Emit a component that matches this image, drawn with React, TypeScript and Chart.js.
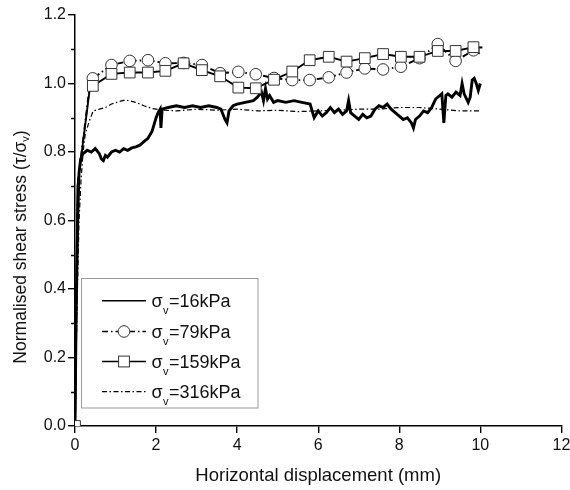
import React, { useEffect, useRef } from 'react';
import { Chart, registerables } from 'chart.js';

Chart.register(...registerables);

const FONT = "'Liberation Sans', Arial, sans-serif";

// Axis ticks
const X_TICKS = [0, 2, 4, 6, 8, 10, 12];
const Y_TICKS = [0, 0.2, 0.4, 0.6, 0.8, 1.0, 1.2];
const Y_MINOR = [0.1, 0.3, 0.5, 0.7, 0.9, 1.1];

// Series labels (σv values)
const SERIES = ['16kPa', '79kPa', '159kPa', '316kPa'];

// σv = 16 kPa (solid, noisy)
const X16 = [0, 0.03, 0.07, 0.1, 0.14, 0.2, 0.3, 0.4, 0.5, 0.6, 0.65, 0.7, 0.75, 0.8, 0.9, 1.0, 1.1, 1.2, 1.3, 1.4, 1.5, 1.6, 1.7, 1.8, 1.9, 1.95, 2.0, 2.05, 2.1, 2.12, 2.15, 2.3, 2.5, 2.7, 2.9, 3.1, 3.3, 3.5, 3.6, 3.7, 3.75, 3.8, 3.9, 4.0, 4.2, 4.4, 4.5, 4.6, 4.65, 4.7, 4.75, 4.8, 4.9, 5.0, 5.2, 5.4, 5.6, 5.8, 5.9, 6.0, 6.1, 6.2, 6.3, 6.4, 6.5, 6.6, 6.7, 6.75, 6.8, 6.9, 7.0, 7.1, 7.2, 7.3, 7.4, 7.5, 7.6, 7.7, 7.8, 7.9, 8.0, 8.1, 8.2, 8.3, 8.35, 8.4, 8.5, 8.6, 8.7, 8.8, 8.9, 9.0, 9.05, 9.1, 9.15, 9.2, 9.3, 9.4, 9.5, 9.55, 9.6, 9.7, 9.75, 9.8, 9.85, 9.9, 9.95, 10.0];
const Y16 = [0, 0.35, 0.62, 0.74, 0.78, 0.795, 0.805, 0.8, 0.81, 0.795, 0.78, 0.775, 0.79, 0.785, 0.8, 0.805, 0.8, 0.81, 0.805, 0.812, 0.815, 0.82, 0.83, 0.84, 0.86, 0.88, 0.9, 0.915, 0.925, 0.87, 0.925, 0.93, 0.935, 0.93, 0.935, 0.93, 0.935, 0.93, 0.925, 0.895, 0.885, 0.92, 0.935, 0.94, 0.945, 0.95, 0.96, 0.975, 0.95, 0.985, 0.955, 0.965, 0.945, 0.95, 0.945, 0.95, 0.945, 0.94, 0.9, 0.92, 0.905, 0.915, 0.93, 0.915, 0.925, 0.91, 0.92, 0.95, 0.915, 0.905, 0.895, 0.91, 0.9, 0.905, 0.925, 0.935, 0.93, 0.94, 0.925, 0.915, 0.905, 0.895, 0.9, 0.885, 0.87, 0.895, 0.905, 0.92, 0.915, 0.93, 0.955, 0.965, 0.97, 0.885, 0.965, 0.97, 0.96, 0.975, 0.965, 1.0, 0.97, 0.945, 0.96, 1.01, 1.015, 1.0, 0.98, 1.0];

// σv = 79 kPa (circles)
const X79 = [0, 0.08, 0.36, 0.44, 0.9, 1.35, 1.8, 2.23, 2.68, 3.13, 3.58, 4.03, 4.46, 4.91, 5.36, 5.79, 6.26, 6.7, 7.15, 7.6, 8.04, 8.5, 8.95, 9.39, 9.83, 10.02];
const Y79 = [0, 0.72, 0.99, 1.015, 1.054, 1.066, 1.068, 1.059, 1.06, 1.054, 1.03, 1.034, 1.027, 1.016, 1.01, 1.01, 1.018, 1.032, 1.044, 1.041, 1.049, 1.074, 1.115, 1.066, 1.097, 1.085];
const MARK79 = [0.44, 0.9, 1.35, 1.8, 2.23, 2.68, 3.13, 3.58, 4.03, 4.46, 4.91, 5.36, 5.79, 6.26, 6.7, 7.15, 7.6, 8.04, 8.5, 8.95, 9.39, 9.83];

// σv = 159 kPa (squares)
const X159 = [0, 0.06, 0.36, 0.44, 0.9, 1.35, 1.8, 2.23, 2.68, 3.13, 3.58, 4.03, 4.46, 4.91, 5.36, 5.79, 6.26, 6.7, 7.15, 7.6, 8.04, 8.5, 8.95, 9.39, 9.83, 10.05];
const Y159 = [0, 0.7, 0.98, 0.993, 1.028, 1.032, 1.032, 1.037, 1.059, 1.039, 1.021, 0.988, 0.986, 1.011, 1.035, 1.068, 1.078, 1.064, 1.074, 1.086, 1.078, 1.078, 1.095, 1.095, 1.106, 1.105];
const MARK159 = [0, 0.44, 0.9, 1.35, 1.8, 2.23, 2.68, 3.13, 3.58, 4.03, 4.46, 4.91, 5.36, 5.79, 6.26, 6.7, 7.15, 7.6, 8.04, 8.5, 8.95, 9.39, 9.83];

// σv = 316 kPa (dash-dot)
const X316 = [0, 0.05, 0.1, 0.15, 0.2, 0.25, 0.35, 0.45, 0.6, 0.75, 0.9, 1.1, 1.25, 1.5, 1.7, 1.9, 2.2, 2.5, 3.0, 3.5, 4.0, 4.5, 5.0, 5.5, 6.0, 6.5, 7.0, 7.5, 8.0, 8.5, 9.0, 9.5, 10.0];
const Y316 = [0, 0.35, 0.6, 0.72, 0.8, 0.85, 0.89, 0.92, 0.925, 0.93, 0.94, 0.948, 0.952, 0.945, 0.935, 0.927, 0.922, 0.92, 0.925, 0.922, 0.925, 0.92, 0.922, 0.918, 0.92, 0.922, 0.925, 0.925, 0.93, 0.93, 0.925, 0.92, 0.92];

const pts = (xs: number[], ys: number[]) => xs.map((x, i) => ({ x, y: ys[i] }));

const DASH79 = [6, 3, 1.5, 3];
const DASH316 = [5, 2.5, 1.5, 2.5];

const LEGEND_STYLE = [
  { width: 1.6, dash: [] as number[], marker: '' },
  { width: 1.4, dash: DASH79, marker: 'circle' },
  { width: 1.4, dash: [] as number[], marker: 'rect' },
  { width: 1.3, dash: DASH316, marker: '' },
];

const minorTicks = {
  id: 'minorTicks',
  afterDraw(chart: any) {
    const ctx = chart.ctx;
    const ys = chart.scales.y;
    const left = chart.chartArea.left;
    ctx.save();
    ctx.strokeStyle = '#000';
    ctx.lineWidth = 1.3;
    ctx.beginPath();
    Y_MINOR.forEach((v) => {
      const py = Math.round(ys.getPixelForValue(v)) + 0.5;
      ctx.moveTo(left - 4, py);
      ctx.lineTo(left, py);
    });
    ctx.stroke();
    ctx.restore();
  },
};

const yTitle = {
  id: 'yTitle',
  afterDraw(chart: any) {
    const ctx = chart.ctx;
    ctx.save();
    ctx.translate(21, 247);
    ctx.rotate(-Math.PI / 2);
    ctx.fillStyle = '#111';
    ctx.textBaseline = 'middle';
    const main = 'Normalised shear stress (τ/σ';
    const sub = 'v';
    const end = ')';
    ctx.font = `17.5px ${FONT}`;
    const w1 = ctx.measureText(main).width;
    const w3 = ctx.measureText(end).width;
    ctx.font = `11px ${FONT}`;
    const w2 = ctx.measureText(sub).width;
    const total = w1 + w2 + w3;
    let x = -total / 2;
    ctx.font = `17.5px ${FONT}`;
    ctx.fillText(main, x, 0);
    x += w1;
    ctx.font = `11px ${FONT}`;
    ctx.fillText(sub, x, 5);
    x += w2;
    ctx.font = `17.5px ${FONT}`;
    ctx.fillText(end, x, 0);
    ctx.restore();
  },
};

const customLegend = {
  id: 'customLegend',
  afterDraw(chart: any) {
    const ctx = chart.ctx;
    ctx.save();
    ctx.fillStyle = '#fff';
    ctx.fillRect(82, 278, 176, 130);
    ctx.strokeStyle = '#9a9a9a';
    ctx.lineWidth = 1;
    ctx.strokeRect(81.5, 278.5, 176.5, 129.5);
    const rows = [300.7, 331.5, 361.5, 391.7];
    SERIES.forEach((label, i) => {
      const y = rows[i];
      const st = LEGEND_STYLE[i];
      ctx.strokeStyle = '#000';
      ctx.lineWidth = st.width;
      ctx.setLineDash(st.dash);
      ctx.beginPath();
      ctx.moveTo(102, y);
      ctx.lineTo(146, y);
      ctx.stroke();
      ctx.setLineDash([]);
      if (st.marker === 'circle') {
        ctx.fillStyle = '#fff';
        ctx.strokeStyle = '#333';
        ctx.lineWidth = 1;
        ctx.beginPath();
        ctx.arc(124, y, 5.8, 0, Math.PI * 2);
        ctx.fill();
        ctx.stroke();
      } else if (st.marker === 'rect') {
        ctx.fillStyle = '#fff';
        ctx.strokeStyle = '#333';
        ctx.lineWidth = 1;
        ctx.fillRect(118.6, y - 5.4, 10.8, 10.8);
        ctx.strokeRect(118.6, y - 5.4, 10.8, 10.8);
      }
      ctx.fillStyle = '#111';
      ctx.textBaseline = 'alphabetic';
      ctx.font = `18px ${FONT}`;
      ctx.fillText('σ', 151.5, y + 6.2);
      const ws = ctx.measureText('σ').width;
      ctx.font = `11px ${FONT}`;
      ctx.fillText('v', 151.5 + ws + 0.5, y + 13.5);
      ctx.font = `18px ${FONT}`;
      ctx.fillText('=' + label, 169, y + 6.2);
    });
    ctx.restore();
  },
};

export default function App() {
  const ref = useRef<HTMLCanvasElement | null>(null);

  useEffect(() => {
    if (!ref.current) return;
    const r79 = (c: any) => (MARK79.includes(X79[c.dataIndex]) ? 5.8 : 0);
    const r159 = (c: any) => (c.dataIndex !== 1 && c.dataIndex !== 2 && MARK159.includes(X159[c.dataIndex]) ? 7.6 : 0);
    const chart = new Chart(ref.current, {
      type: 'line',
      data: {
        datasets: [
          {
            label: SERIES[2],
            data: pts(X159, Y159),
            borderColor: '#000',
            borderWidth: 1.9,
            pointStyle: 'rect',
            pointRadius: r159,
            pointBackgroundColor: '#fff',
            pointBorderColor: '#333',
            pointBorderWidth: 1,
            tension: 0,
            clip: 0,
            order: 0,
          },
          {
            label: SERIES[1],
            data: pts(X79, Y79),
            borderColor: '#000',
            borderWidth: 1.9,
            borderDash: DASH79,
            pointStyle: 'circle',
            pointRadius: r79,
            pointBackgroundColor: '#fff',
            pointBorderColor: '#333',
            pointBorderWidth: 1,
            tension: 0,
            clip: 0,
            order: 1,
          },
          {
            label: SERIES[0],
            data: pts(X16, Y16),
            borderColor: '#000',
            borderWidth: 2.9,
            pointRadius: 0,
            tension: 0,
            clip: 0,
            order: 2,
          },
          {
            label: SERIES[3],
            data: pts(X316, Y316),
            borderColor: '#000',
            borderWidth: 1.2,
            borderDash: DASH316,
            pointRadius: 0,
            tension: 0,
            clip: 0,
            order: 3,
          },
        ],
      },
      options: {
        responsive: false,
        animation: false,
        devicePixelRatio: 1,
        layout: { padding: { top: 15, right: 7, bottom: 0, left: 0 } },
        plugins: {
          legend: { display: false },
          tooltip: { enabled: false },
        },
        scales: {
          x: {
            type: 'linear',
            min: 0,
            max: 12,
            afterBuildTicks: (s: any) => {
              s.ticks = X_TICKS.map((v) => ({ value: v }));
            },
            afterFit: (s: any) => {
              s.height = 64;
              s.paddingLeft = 0;
              s.paddingRight = 0;
            },
            ticks: {
              color: '#111',
              font: { family: FONT, size: 16 },
              padding: 3,
              maxRotation: 0,
              autoSkip: false,
              callback: (v: any) => String(v),
            },
            grid: {
              display: true,
              drawOnChartArea: false,
              drawTicks: true,
              tickLength: 7,
              color: '#000',
              lineWidth: 1.4,
            },
            border: { display: true, color: '#000', width: 1.5 },
            title: {
              display: true,
              text: 'Horizontal displacement (mm)',
              color: '#111',
              font: { family: FONT, size: 18.5 },
              padding: { top: 0, bottom: 3 },
            },
          },
          y: {
            type: 'linear',
            min: 0,
            max: 1.2,
            afterBuildTicks: (s: any) => {
              s.ticks = Y_TICKS.map((v) => ({ value: v }));
            },
            afterFit: (s: any) => {
              s.width = 75;
              s.paddingTop = 0;
              s.paddingBottom = 0;
            },
            ticks: {
              color: '#111',
              font: { family: FONT, size: 16 },
              padding: 2,
              autoSkip: false,
              callback: (v: any) => Number(v).toFixed(1),
            },
            grid: {
              display: true,
              drawOnChartArea: false,
              drawTicks: true,
              tickLength: 7,
              color: '#000',
              lineWidth: 1.4,
            },
            border: { display: true, color: '#000', width: 1.5 },
            title: { display: false },
          },
        },
      },
      plugins: [minorTicks, yTitle, customLegend],
    } as any);
    return () => chart.destroy();
  }, []);

  return (
    <div style={{ position: 'fixed', left: 0, top: 0, width: 570, height: 490, background: '#fff' }}>
      <canvas ref={ref} width={570} height={490} style={{ width: 570, height: 490, display: 'block' }} />
    </div>
  );
}
